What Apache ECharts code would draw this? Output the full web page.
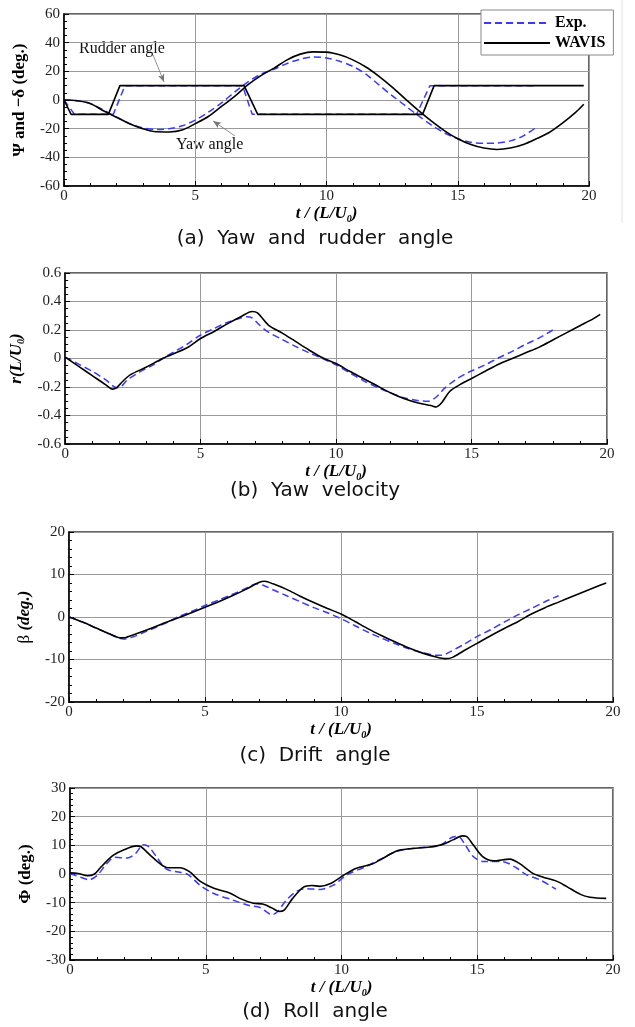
<!DOCTYPE html>
<html><head><meta charset="utf-8">
<script src="https://cdn.jsdelivr.net/npm/echarts@6/dist/echarts.min.js"></script>
<style>html,body{margin:0;padding:0;background:#fff}#c{width:635px;height:1027px}</style>
</head><body><div id="c"></div>
<script>
// ---------- DATA ----------
const xTicks = [0, 5, 10, 15, 20];
// (a) rudder angle (-delta) and yaw angle (Psi), deg
const rudderExp   = [[0,0],[0.4,-10],[1.88,-10],[2.32,10],[6.8,10],[7.17,-10],[13.43,-10],[13.94,10],[18,10]];
const rudderWavis = [[0,0],[0.27,-10],[1.69,-10],[2.13,10],[6.86,10],[7.38,-10],[13.66,-10],[14.1,10],[19.8,10]];
const yawExp = [[0,0],[0.5,-0.5],[1,-2.5],[1.5,-7],[2,-12],[2.5,-16.5],[3,-19.5],[3.5,-20.5],[4,-20],[4.5,-18],[5,-14],[5.5,-8.5],[6,-2],[6.5,5.5],[7,12.5],[7.5,18],[8,21.5],[8.5,25.5],[9,28.5],[9.5,30],[10,29.3],[10.5,27],[11,23.5],[11.5,18],[12,10.5],[12.5,3],[13,-4],[13.5,-11],[14,-17.5],[14.5,-23],[15,-27],[15.5,-29.5],[16,-30.2],[16.5,-30],[17,-28.5],[17.5,-25],[18,-19]];
const yawWavis = [[0,0],[0.5,-0.5],[1,-2.5],[1.5,-7.5],[2,-12],[2.5,-16.5],[3,-20],[3.5,-22.2],[4,-22.3],[4.5,-21],[5,-16.5],[5.5,-11.5],[6,-4.5],[6.5,2.5],[7,10.5],[7.5,17],[8,22.2],[8.5,28],[9,32],[9.5,33.6],[10,33.4],[10.5,31.5],[11,28],[11.5,23],[12,16.5],[12.5,9],[13,0.8],[13.5,-7.3],[14,-14.8],[14.5,-21.5],[15,-27],[15.5,-31],[16,-33.5],[16.5,-34.5],[17,-33.5],[17.5,-31],[18,-27],[18.5,-22.5],[19,-16],[19.5,-8.5],[19.8,-3]];
// (b) yaw velocity r(L/U0)
const rExp = [[0,0.01],[0.5,-0.04],[1,-0.09],[1.5,-0.15],[1.9,-0.205],[2.05,-0.2],[2.3,-0.15],[2.7,-0.1],[3.2,-0.05],[3.6,0],[4,0.045],[4.5,0.1],[5,0.165],[5.5,0.21],[6,0.255],[6.5,0.285],[6.7,0.293],[6.9,0.285],[7.2,0.23],[7.5,0.185],[8,0.135],[8.5,0.085],[9,0.04],[9.5,0],[10,-0.045],[10.5,-0.1],[11,-0.155],[11.5,-0.2],[12,-0.24],[12.5,-0.275],[13,-0.295],[13.4,-0.3],[13.7,-0.27],[14,-0.21],[14.4,-0.15],[14.8,-0.105],[15.5,-0.045],[16,0.005],[16.5,0.05],[17,0.1],[17.5,0.145],[18,0.2]];
const rWavis = [[0,0.01],[0.5,-0.055],[1,-0.12],[1.5,-0.185],[1.75,-0.215],[1.9,-0.205],[2.1,-0.165],[2.4,-0.115],[3,-0.06],[3.6,0],[4.5,0.075],[5,0.14],[5.5,0.19],[6,0.245],[6.5,0.295],[6.9,0.33],[7.1,0.32],[7.5,0.235],[8,0.18],[8.5,0.12],[9,0.06],[9.5,0.005],[10,-0.035],[10.5,-0.09],[11,-0.14],[11.5,-0.19],[12,-0.24],[12.5,-0.28],[13,-0.31],[13.5,-0.33],[13.7,-0.34],[13.9,-0.31],[14.2,-0.23],[14.6,-0.18],[15,-0.14],[15.5,-0.09],[16,-0.04],[16.5,0],[17,0.04],[17.5,0.08],[18,0.13],[18.5,0.18],[19,0.23],[19.5,0.28],[19.75,0.31]];
// (c) drift angle beta, deg
const driftExp = [[0,0],[0.5,-1.2],[1,-2.6],[1.5,-4],[2,-5.2],[2.3,-4.8],[2.7,-3.8],[3.2,-2.4],[3.7,-1],[4,0],[4.5,1.3],[5,2.7],[5.5,4],[6,5.3],[6.5,6.7],[6.9,7.8],[7.2,7.3],[7.5,6.4],[8,5],[8.5,3.6],[9,2.2],[9.5,1],[10,-0.4],[10.5,-2],[11,-3.6],[11.5,-5],[12,-6.3],[12.5,-7.5],[13,-8.4],[13.5,-9],[13.7,-9],[14,-8.2],[14.5,-6.5],[15,-4.6],[15.5,-3],[16,-1.2],[16.5,0.5],[17,2],[17.5,3.6],[18,5]];
const driftWavis = [[0,0],[0.5,-1.2],[1,-2.6],[1.5,-4],[1.9,-4.9],[2.1,-4.8],[2.5,-3.9],[3,-2.7],[3.5,-1.4],[4.1,0],[4.5,1],[5,2.3],[5.5,3.6],[6,5],[6.5,6.5],[7,8.2],[7.2,8.4],[7.5,7.8],[8,6.5],[8.5,4.9],[9,3.4],[9.5,2],[10,0.7],[10.5,-1],[11,-2.8],[11.5,-4.4],[12,-5.9],[12.5,-7.3],[13,-8.5],[13.5,-9.4],[13.85,-9.8],[14.1,-9.5],[14.5,-8],[15,-6.2],[15.5,-4.4],[16,-2.7],[16.5,-1.1],[17,0.7],[17.5,2.2],[18,3.5],[18.5,4.8],[19,6.1],[19.5,7.4],[19.75,8]];
// (d) roll angle Phi, deg
const rollExp = [[0,0.2],[0.35,-1],[0.7,-2],[1,-0.5],[1.35,3.6],[1.65,5.8],[2.1,5.6],[2.4,7],[2.7,10.2],[2.9,9.5],[3.2,5.8],[3.55,1.7],[4.05,0.6],[4.35,-0.2],[4.8,-4],[5.3,-6.8],[6,-9.1],[6.6,-11],[7,-11.7],[7.45,-14.2],[7.65,-13.1],[7.95,-9.3],[8.35,-6],[8.7,-5.1],[9.2,-5.4],[9.7,-3.9],[10.2,-0.3],[10.9,2.6],[11.4,5],[12.05,7.9],[12.75,9.1],[13.6,9.9],[14.1,12.9],[14.3,13.1],[14.55,10.2],[14.85,6.1],[15.2,4.4],[15.95,4.3],[16.45,2.1],[16.8,-0.2],[17.3,-2],[17.9,-5.3]];
const rollWavis = [[0,0.4],[0.3,0.2],[0.65,-0.6],[0.9,0],[1.1,2],[1.35,4.5],[1.6,6.6],[1.95,8.3],[2.45,9.8],[2.6,9.6],[2.95,6.6],[3.3,3.7],[3.6,2.2],[4.05,2.2],[4.4,0.8],[4.8,-2.6],[5.3,-5],[5.9,-6.7],[6.25,-8.5],[6.75,-10.2],[7.1,-10.5],[7.45,-11.9],[7.7,-13.1],[7.9,-12.5],[8.2,-8.5],[8.6,-4.6],[8.9,-4],[9.2,-4.3],[9.6,-3.3],[10.1,-0.3],[10.55,2],[11.15,3.6],[11.55,5.6],[12.05,8.1],[12.5,8.8],[13.25,9.4],[13.75,10.4],[14.1,11.9],[14.45,13.3],[14.6,13.1],[14.85,10.2],[15.2,6.1],[15.6,4.6],[16.2,5.2],[16.55,3.7],[17.05,0.2],[17.45,-1.2],[17.9,-2.4],[18.3,-4.4],[18.8,-7.1],[19.15,-8.1],[19.75,-8.5]];
// arrow annotations (data coordinates of panel a)
const rudderArrow = [[3.39,31.5],[3.81,12.6]];
const yawArrow = [[6.51,-25],[5.68,-14.7]];
const panelTitles = ['(a)  Yaw  and  rudder  angle','(b)  Yaw  velocity','(c)  Drift  angle','(d)  Roll  angle'];

// ---------- STYLE / LAYOUT ----------
const SERIF = 'Liberation Serif';
const BLUE = '#3a3aff';
const grids = [
  {left:64, top:14, width:525, height:172},
  {left:62, top:273, width:545, height:171},
  {left:69, top:532, width:544, height:170},
  {left:70, top:788, width:543, height:172}
];
const yCfg = [
  {min:-60, max:60, interval:20, split:4, gap:34, name:'{b|Ψ and −δ (deg.)}'},
  {min:-0.6, max:0.6, interval:0.2, split:4, gap:37, name:'{bi|r(L/U}{s|0}{bi|)}'},
  {min:-20, max:20, interval:10, split:5, gap:34, name:'{n|β }{bi|(deg.)}'},
  {min:-30, max:30, interval:10, split:5, gap:34, name:'{b|Φ (deg.)}'}
];
const richName = {
  b:{fontFamily:SERIF, fontWeight:'bold', fontSize:17, color:'#000', lineHeight:20},
  n:{fontFamily:SERIF, fontSize:17, color:'#000', lineHeight:20},
  bi:{fontFamily:SERIF, fontWeight:'bold', fontStyle:'italic', fontSize:17, color:'#000', lineHeight:20},
  s:{fontFamily:SERIF, fontWeight:'bold', fontStyle:'italic', fontSize:10, color:'#000', lineHeight:8, verticalAlign:'bottom'}
};
const labelStyle = {fontFamily:SERIF, fontSize:15, color:'#222', margin:4};

const xAxes = grids.map((g,i)=>({
  type:'value', gridIndex:i, min:xTicks[0], max:xTicks[xTicks.length-1], interval:xTicks[1]-xTicks[0],
  axisLine:{onZero:false, lineStyle:{color:'#000', width:1.5}},
  axisTick:{inside:true, length:5, lineStyle:{color:'#000'}},
  minorTick:{show:true, splitNumber:5, length:3, lineStyle:{color:'#000'}},
  splitLine:{show:true, lineStyle:{color:'#9a9a9a', width:1}},
  axisLabel:Object.assign({}, labelStyle, {margin:3}),
  name:'{bi|t / (L/U}{s|0}{bi|)}', nameLocation:'middle', nameGap:18,
  nameTextStyle:{rich:richName}
}));
const yAxes = yCfg.map((c,i)=>({
  type:'value', gridIndex:i, min:c.min, max:c.max, interval:c.interval,
  axisLine:{onZero:false, lineStyle:{color:'#000', width:1.5}},
  axisTick:{inside:true, length:5, lineStyle:{color:'#000'}},
  minorTick:{show:true, splitNumber:c.split, length:3, lineStyle:{color:'#000'}},
  splitLine:{show:true, lineStyle:{color:'#9a9a9a', width:1}},
  axisLabel:Object.assign({}, labelStyle, {formatter:v=>String(Math.round(v*10)/10)}),
  name:c.name, nameLocation:'middle', nameRotate:90, nameGap:c.gap,
  nameTextStyle:{rich:richName}
}));

function exp(data, gi, extra){
  return Object.assign({name:'Exp.', type:'line', xAxisIndex:gi, yAxisIndex:gi, data:data, symbol:'none',
    smooth:0.3, lineStyle:{color:BLUE, width:1.5, type:[7,4]}, itemStyle:{color:BLUE}, z:2}, extra||{});
}
function wav(data, gi, extra){
  return Object.assign({name:'WAVIS', type:'line', xAxisIndex:gi, yAxisIndex:gi, data:data, symbol:'none',
    smooth:0.3, lineStyle:{color:'#000', width:1.6}, itemStyle:{color:'#000'}, z:3}, extra||{});
}
const arrowLine = {
  silent:true, symbol:['none','arrow'], symbolSize:[5,8], label:{show:false},
  lineStyle:{color:'#777', width:0.8, type:'solid'},
  data:[
    [{coord:rudderArrow[0]},{coord:rudderArrow[1]}],
    [{coord:yawArrow[0]},{coord:yawArrow[1]}]
  ]
};

const series = [
  exp(yawExp,0),
  exp(rudderExp,0,{smooth:false}),
  wav(yawWavis,0),
  wav(rudderWavis,0,{smooth:false, markLine:arrowLine}),
  exp(rExp,1), wav(rWavis,1),
  exp(driftExp,2), wav(driftWavis,2),
  exp(rollExp,3), wav(rollWavis,3)
];

const titleTops = [229, 481, 746, 1002];
const titles = panelTitles.map((t,i)=>({
  text:t, left:315, top:titleTops[i], textAlign:'center', padding:0,
  textStyle:{fontFamily:'DejaVu Sans', fontWeight:'normal', fontSize:20, color:'#111'}
}));

const option = {
  animation:false,
  backgroundColor:'#fff',
  title:titles,
  grid:grids.map(g=>Object.assign({show:true, borderColor:'#333', borderWidth:1.5, backgroundColor:'transparent'}, g)),
  xAxis:xAxes, yAxis:yAxes,
  legend:{
    show:true, orient:'vertical', left:481, top:10, selectedMode:false,
    data:['Exp.','WAVIS'], backgroundColor:'#fff', borderColor:'#888', borderWidth:1,
    padding:[5,8,4,2], itemWidth:66, itemHeight:12, itemGap:4,
    itemStyle:{opacity:0},
    textStyle:{fontFamily:SERIF, fontWeight:'bold', fontSize:16, color:'#000'}
  },
  graphic:[
    {type:'text', left:79, top:41, style:{text:'Rudder angle', font:'16px "Liberation Serif"', fill:'#111'}},
    {type:'text', left:176, top:137, style:{text:'Yaw angle', font:'16px "Liberation Serif"', fill:'#111'}},
    {type:'line', shape:{x1:622, y1:0, x2:622, y2:223}, style:{stroke:'#e2e2e2', lineWidth:1}}
  ],
  series:series
};
const chart = echarts.init(document.getElementById('c'), null, {renderer:'canvas'});
chart.setOption(option);
</script></body></html>
